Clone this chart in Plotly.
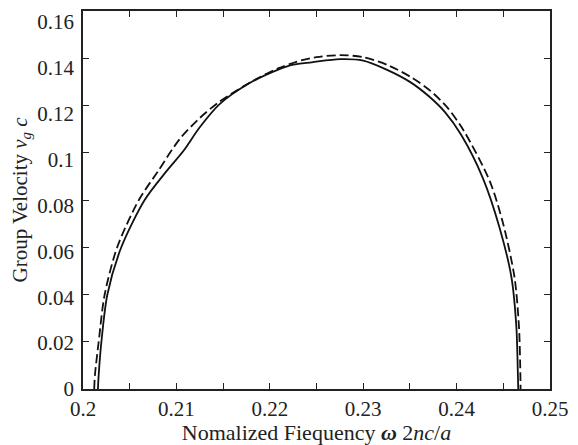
import plotly.graph_objects as go

# Solid curve
solid_x = [0.2016, 0.20168, 0.20197, 0.20261, 0.2041, 0.2066, 0.2089, 0.2107, 0.2125,
           0.2146, 0.2178, 0.2209, 0.2225, 0.2245, 0.2275, 0.2300, 0.2325, 0.2350,
           0.2370, 0.2388, 0.2405, 0.2428, 0.2446, 0.24587, 0.2464, 0.24655, 0.2466]
solid_y = [0.0, 0.006, 0.02, 0.04, 0.06, 0.08, 0.092, 0.1005, 0.1108,
           0.1205, 0.1294, 0.1352, 0.1373, 0.1383, 0.1396, 0.1390, 0.1352, 0.1300,
           0.1240, 0.1170, 0.1075, 0.0894, 0.0683, 0.0473, 0.0262, 0.008, 0.0]

# Dashed curve
dash_x = [0.2012, 0.20128, 0.20168, 0.20232, 0.20366, 0.20598, 0.2080, 0.21035, 0.2125,
          0.21464, 0.2180, 0.22088, 0.22285, 0.2250, 0.2275, 0.2300, 0.2328, 0.2352,
          0.2372, 0.2390, 0.2408, 0.24355, 0.2450, 0.2462, 0.24668, 0.24683, 0.24685]
dash_y = [0.0, 0.006, 0.02, 0.04, 0.06, 0.08, 0.092, 0.1058, 0.1147,
          0.1217, 0.130, 0.1357, 0.1385, 0.1405, 0.1413, 0.1405, 0.1368, 0.1318,
          0.1262, 0.1192, 0.1091, 0.0880, 0.0697, 0.0473, 0.0262, 0.006, 0.0]

x_ticks = [0.2, 0.21, 0.22, 0.23, 0.24, 0.25]
y_ticks = [0, 0.02, 0.04, 0.06, 0.08, 0.1, 0.12, 0.14, 0.16]
y_range = [0, 0.16]
y_label_range = [0, 0.16477]   # tick labels in the picture sit on a slightly stretched scale

fig = go.Figure()
fig.add_trace(go.Scatter(x=solid_x, y=solid_y, mode="lines",
                         line=dict(color="#111111", width=1.8, shape="spline", smoothing=0.8),
                         showlegend=False))
fig.add_trace(go.Scatter(x=dash_x, y=dash_y, mode="lines",
                         line=dict(color="#111111", width=1.8, dash="9px,4px", shape="spline", smoothing=0.8),
                         showlegend=False))
# invisible helper trace to activate the label axis
fig.add_trace(go.Scatter(x=[None], y=[None], yaxis="y2", showlegend=False, hoverinfo="skip"))

font = "Liberation Serif, Times New Roman, serif"
fig.update_layout(
    width=570, height=437,
    margin=dict(l=75, r=28, t=1, b=56),
    paper_bgcolor="white", plot_bgcolor="white",
    font=dict(family=font, color="#222222", size=21),
    xaxis=dict(range=[0.2, 0.25], tickvals=x_ticks, ticks="inside", ticklen=6,
               showline=True, linecolor="#222222", linewidth=1.5, mirror="ticks",
               showgrid=False, zeroline=False, tickcolor="#222222",
               minor=dict(dtick=0.005, ticks="inside", ticklen=6, tickcolor="#222222", showgrid=False),
               title=dict(text="Nomalized Fiequency <i><b>ω</b></i> 2<i>nc</i>/<i>a</i>",
                          font=dict(size=22), standoff=2)),
    yaxis=dict(range=y_range, tickvals=y_ticks, ticks="inside", ticklen=6,
               showline=True, linecolor="#222222", linewidth=1.5, mirror="ticks",
               showgrid=False, zeroline=False, tickcolor="#222222", showticklabels=False),
    yaxis2=dict(range=y_label_range, tickvals=y_ticks, overlaying="y", side="left",
                showline=False, showgrid=False, zeroline=False, ticks="",
                ticklabelstandoff=8,
                title=dict(text="Group Velocity <i>v<sub>g</sub> c</i>", font=dict(size=21), standoff=4)),
)

fig.write_html("out.html")
